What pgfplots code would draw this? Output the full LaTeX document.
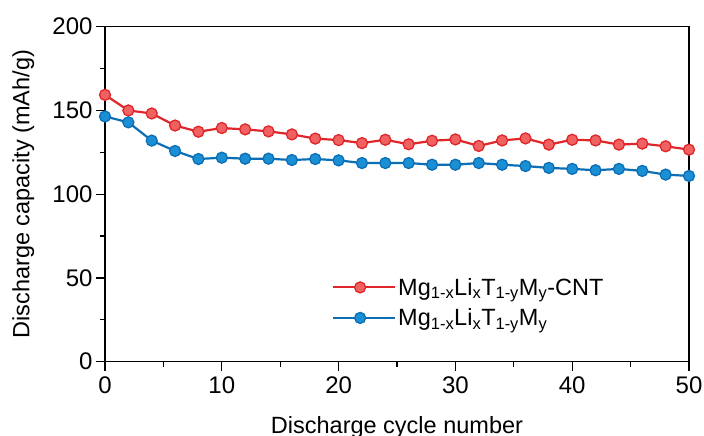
\documentclass[border=0pt]{standalone}
\usepackage{pgfplots}
\pgfplotsset{compat=1.18}
\usepackage{fontspec}
\setmainfont{Liberation Sans}
\definecolor{redline}{HTML}{E0262A}
\definecolor{redfill}{HTML}{F06262}
\definecolor{blueline}{HTML}{0C6FB5}
\definecolor{bluefill}{HTML}{1A8FD4}
\begin{document}
\begin{tikzpicture}
\begin{axis}[
  scale only axis,
  width=584pt, height=335pt,
  xmin=0, xmax=50, ymin=0, ymax=200,
  xtick={0,10,20,30,40,50},
  ytick={0,50,100,150,200},
  minor tick num=1,
  tick pos=left,
  tick align=outside,
  major tick length=9pt,
  minor tick length=5pt,
  every tick/.style={line width=1.2pt, black},
  axis line style={line width=1.2pt},
  /pgf/number format/assume math mode=true,
  tick label style={font=\fontsize{24}{28}\selectfont},
  xticklabel style={yshift=-3pt},
  label style={font=\fontsize{23.5}{28}\selectfont},
  xlabel={Discharge cycle number},
  ylabel={Discharge capacity (mAh/g)},
  xlabel style={at={(axis description cs:0.5,0)}, anchor=base, yshift=-72pt},
  ylabel style={at={(axis description cs:-0.14,0.5)}, anchor=center},
  legend style={draw=none, fill=none, at={(0.385,0.262)}, anchor=north west,
    font=\fontsize{23.5}{27}\selectfont, row sep=8pt, inner sep=2pt},
  legend cell align=left,
  legend image code/.code={\path (0pt,0pt) -- (62pt,0pt);\draw[mark repeat=2,mark phase=2] plot coordinates {(0pt,0pt) (27pt,0pt) (54pt,0pt)};},
]
\addplot[redline, line width=2.2pt, mark=*, mark size=5.5pt, mark options={fill=redfill, draw=redline, line width=1.3pt}] coordinates {
(0,159.3) (2,150) (4,148.2) (6,141) (8,137.3) (10,139.5) (12,138.7) (14,137.5)
(16,135.7) (18,133.2) (20,132.3) (22,130.5) (24,132.5) (26,129.8) (28,131.9)
(30,132.7) (32,128.8) (34,132.1) (36,133.3) (38,129.6) (40,132.5) (42,132.1)
(44,129.6) (46,130.2) (48,128.6) (50,126.6)};
\addlegendentry{Mg\textsubscript{1-x}Li\textsubscript{x}T\textsubscript{1-y}M\textsubscript{y}-CNT}
\addplot[blueline, line width=2.2pt, mark=*, mark size=5.5pt, mark options={fill=bluefill, draw=blueline, line width=1.3pt}] coordinates {
(0,146.4) (2,142.9) (4,132) (6,125.8) (8,121) (10,121.8) (12,121.2) (14,121.2)
(16,120.4) (18,121) (20,120.2) (22,118.6) (24,118.6) (26,118.6) (28,117.6)
(30,117.6) (32,118.6) (34,117.6) (36,116.8) (38,115.7) (40,115.1) (42,114.3)
(44,115.1) (46,113.9) (48,111.7) (50,110.9)};
\addlegendentry{Mg\textsubscript{1-x}Li\textsubscript{x}T\textsubscript{1-y}M\textsubscript{y}}
\end{axis}
\pgfresetboundingbox
\path ([shift={(-105pt,-74pt)}]current axis.south west) rectangle ([shift={(15pt,26.7pt)}]current axis.north east);
\end{tikzpicture}
\end{document}
